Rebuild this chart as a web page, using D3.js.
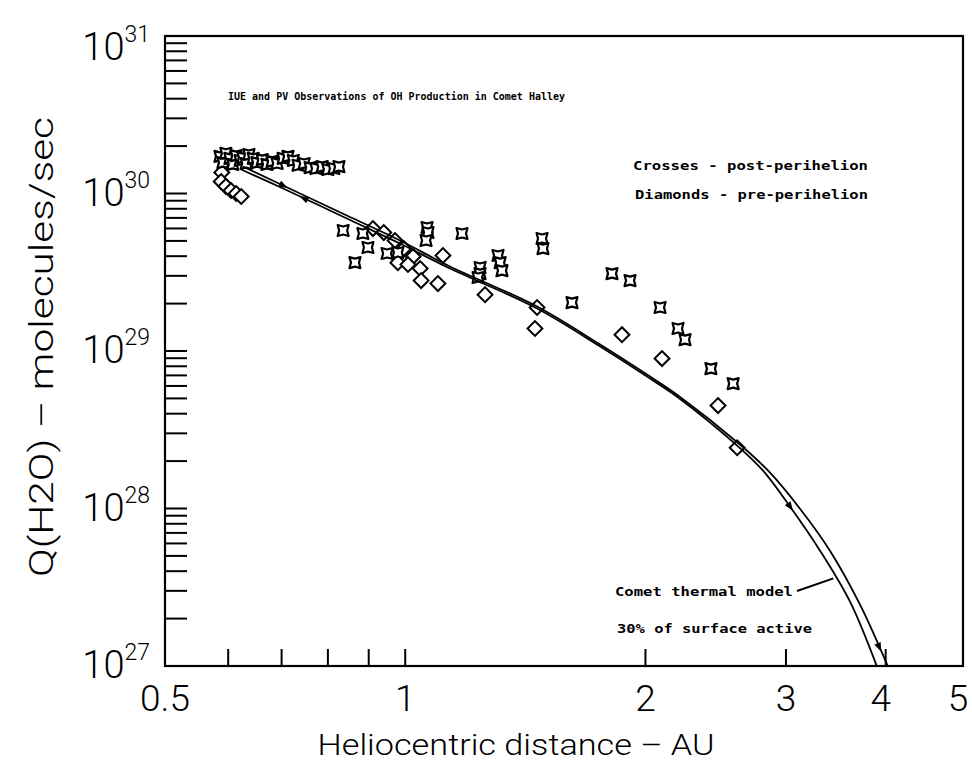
<!DOCTYPE html>
<html><head><meta charset="utf-8">
<script src="https://cdn.jsdelivr.net/npm/d3@7"></script>
<style>body{margin:0;background:#fff}</style>
</head><body>
<svg id="c" width="972" height="765"></svg>
<script>
// ---- data (heliocentric distance in AU, Q(H2O) in molecules/sec) ----
const postR = [0.586,0.591,0.596,0.603,0.608,0.614,0.621,0.626,0.632,0.637,0.645,0.652,0.662,0.671,0.681,0.691,0.703,0.713,0.724,0.734,0.747,0.760,0.773,0.787,0.800,0.814,0.826,
  0.836,0.885,0.898,0.865,0.949,0.979,1.065,1.068,1.062,1.178,1.307,1.315,1.322,1.241,1.241,1.234,1.484,1.488,1.816,1.913,1.618,2.086,2.197,2.242,2.416,2.576];
const postQ = [1.72e30,1.57e30,1.80e30,1.67e30,1.53e30,1.74e30,1.62e30,1.69e30,1.55e30,1.77e30,1.67e30,1.57e30,1.64e30,1.53e30,1.60e30,1.55e30,1.67e30,1.72e30,1.62e30,1.51e30,1.55e30,1.46e30,1.44e30,1.48e30,1.42e30,1.44e30,1.48e30,
  5.82e29,5.57e29,4.54e29,3.64e29,4.16e29,4.22e29,6.08e29,5.65e29,5.03e29,5.57e29,4.04e29,3.64e29,3.24e29,3.39e29,3.10e29,2.93e29,5.18e29,4.47e29,3.10e29,2.80e29,2.03e29,1.89e29,1.39e29,1.18e29,7.73e28,6.21e28];
const preR = [0.589,0.588,0.596,0.605,0.614,0.623,
  0.911,0.940,0.971,0.996,1.023,0.979,1.008,1.044,1.047,1.115,1.099,1.259,1.463,1.454,1.869,2.098,2.466,2.606];
const preQ = [1.36e30,1.19e30,1.11e30,1.045e30,1.0e30,9.57e29,
  5.99e29,5.65e29,5.03e29,4.47e29,3.98e29,3.64e29,3.54e29,3.34e29,2.80e29,4.04e29,2.68e29,2.28e29,1.89e29,1.39e29,1.27e29,8.95e28,4.50e28,2.43e28];
// comet thermal model, 30% of surface active (two branches)
const modelAR = [0.623,0.703,0.845,0.985,1.138,1.463,1.755,2.009,2.191,2.606,2.808,3.036,3.310,3.609,3.901];
const modelAQ = [1.421e30,1.076e30,6.94e29,4.81e29,3.34e29,1.86e29,1.067e29,6.88e28,5.13e28,2.51e28,1.74e28,1.027e28,5.40e27,2.56e27,0.99e27];
const modelBR = [0.626,0.703,0.845,0.985,1.138,1.463,1.755,2.009,2.191,2.629,2.865,3.124,3.406,3.715,4.027];
const modelBQ = [1.484e30,1.124e30,7.25e29,5.03e29,3.44e29,1.915e29,1.098e29,7.08e28,5.28e28,2.54e28,1.689e28,9.97e27,5.40e27,2.45e27,0.99e27];
// direction arrows along the model branches
const arrowR = [0.705,0.745,3.04,3.93];
const arrowBranch = ["B","A","A","B"];
const arrowDir = [1,-1,1,1];
const xTicks = [0.6,0.7,0.8,0.9,1,2,3,4];
const xLabels = ["0.5","1","2","3","4","5"];
const xLabelValues = [0.5,1,2,3,4,5];
const yExponents = [27,28,29,30,31];
const title = "IUE and PV Observations of OH Production in Comet Halley";
const legendPost = "Crosses - post-perihelion";
const legendPre = "Diamonds - pre-perihelion";
const modelLabel1 = "Comet thermal model";
const modelLabel2 = "30% of surface active";
const xTitle = "Heliocentric distance \u2013 AU";
const yTitle = "Q(H2O) \u2013 molecules/sec";

// ---- drawing ----
const svg = d3.select("#c");
const x = d3.scaleLog().domain([0.5,5]).range([165,963]);
const y = d3.scaleLog().domain([1e27,1e31]).range([666,36]);
const NUM = "Roboto, 'DejaVu Sans', sans-serif";
const MONO = "'DejaVu Sans Mono', 'Liberation Mono', monospace";

// y minor/major ticks (inside, left)
const yTickVals = [];
for (let e = 27; e < 31; e++) for (let m = 1; m <= 9; m++) yTickVals.push(m * Math.pow(10, e));
svg.append("g").selectAll("line").data(yTickVals).join("line")
  .attr("x1", x(0.5)).attr("x2", x(0.5) + 22)
  .attr("y1", d => y(d)).attr("y2", d => y(d))
  .attr("stroke", "#000").attr("stroke-width", 2);
// x ticks (inside, bottom)
svg.append("g").selectAll("line").data(xTicks).join("line")
  .attr("x1", d => x(d)).attr("x2", d => x(d))
  .attr("y1", y(1e27)).attr("y2", y(1e27) - 17)
  .attr("stroke", "#000").attr("stroke-width", 2);

// frame
svg.append("rect").attr("x", x(0.5)).attr("y", y(1e31))
  .attr("width", x(5) - x(0.5)).attr("height", y(1e27) - y(1e31))
  .attr("fill", "none").attr("stroke", "#000").attr("stroke-width", 2.2);

// y tick labels
const yl = svg.append("g").attr("font-family", NUM).attr("font-weight", 300).attr("fill", "#000");
yExponents.forEach(e => {
  const base = y(Math.pow(10, e)) + (e === 31 ? 24 : 12);
  const t = yl.append("text").attr("x", 150).attr("y", base).attr("text-anchor", "end");
  t.append("tspan").attr("font-size", 38).text("10");
  t.append("tspan").attr("font-size", 23).attr("dy", -18).text(String(e));
});
// x tick labels
svg.append("g").selectAll("text").data(xLabelValues).join("text")
  .attr("x", d => x(d) - (d >= 4 ? 5 : 0)).attr("y", 711).attr("text-anchor", "middle")
  .attr("font-family", NUM).attr("font-weight", 300).attr("font-size", 37)
  .text((d, i) => xLabels[i]);

// axis titles
svg.append("text").attr("x", 516).attr("y", 755).attr("text-anchor", "middle")
  .attr("font-family", NUM).attr("font-weight", 300).attr("font-size", 30)
  .attr("textLength", 397).attr("lengthAdjust", "spacingAndGlyphs").text(xTitle);
svg.append("text").attr("transform", "translate(53,347) rotate(-90)").attr("text-anchor", "middle")
  .attr("font-family", NUM).attr("font-weight", 300).attr("font-size", 33)
  .attr("textLength", 460).attr("lengthAdjust", "spacingAndGlyphs").text(yTitle);

// title & legend texts
function monoText(str, x0, yb, size, len) {
  svg.append("text").attr("x", x0).attr("y", yb).attr("font-family", MONO).attr("font-weight", "bold")
    .attr("font-size", size).attr("textLength", len).attr("lengthAdjust", "spacingAndGlyphs").text(str);
}
monoText(title, 228, 100, 11, 337);
monoText(legendPost, 633, 170, 13, 235);
monoText(legendPre, 635, 199, 13, 233);
monoText(modelLabel1, 615, 596, 13, 178);
monoText(modelLabel2, 617, 633, 13, 195);

// data markers
const diamond = d3.symbol().type(d3.symbolSquare).size(110);
const crossPath = "M-5.5,-5.5L0,-4L5.5,-5.5L4,0L5.5,5.5L0,4L-5.5,5.5L-4,0Z";
svg.append("g").selectAll("path").data(preR.map((r, i) => [r, preQ[i]])).join("path")
  .attr("d", diamond).attr("transform", d => `translate(${x(d[0])},${y(d[1])}) rotate(45)`)
  .attr("fill", "#fff").attr("stroke", "#000").attr("stroke-width", 2);
svg.append("g").selectAll("path").data(postR.map((r, i) => [r, postQ[i]])).join("path")
  .attr("d", crossPath).attr("transform", d => `translate(${x(d[0])},${y(d[1])})`)
  .attr("fill", "#fff").attr("stroke", "#000").attr("stroke-width", 2.2).attr("stroke-linejoin", "round");

// model curves
const line = d3.line().x(d => x(d[0])).y(d => y(d[1])).curve(d3.curveCatmullRom.alpha(0.5));
const branches = {A: modelAR.map((r, i) => [r, modelAQ[i]]), B: modelBR.map((r, i) => [r, modelBQ[i]])};
Object.values(branches).forEach(pts => {
  svg.append("path").attr("d", line(pts)).attr("fill", "none").attr("stroke", "#000").attr("stroke-width", 1.8);
});
// label connector
svg.append("line").attr("x1", 797).attr("y1", 591).attr("x2", x(3.44)).attr("y2", y(3.6e27))
  .attr("stroke", "#000").attr("stroke-width", 2);

// arrows
function interpLog(pts, r) {
  const lr = Math.log10(r);
  for (let i = 0; i < pts.length - 1; i++) {
    const a = Math.log10(pts[i][0]), b = Math.log10(pts[i + 1][0]);
    if (lr >= a && lr <= b) {
      const t = (lr - a) / (b - a);
      return Math.pow(10, Math.log10(pts[i][1]) * (1 - t) + Math.log10(pts[i + 1][1]) * t);
    }
  }
  return pts[pts.length - 1][1];
}
arrowR.forEach((r, i) => {
  const pts = branches[arrowBranch[i]];
  const p = [x(r), y(interpLog(pts, r))];
  const q = [x(r * 1.01), y(interpLog(pts, r * 1.01))];
  let ang = Math.atan2(q[1] - p[1], q[0] - p[0]) * 180 / Math.PI;
  if (arrowDir[i] < 0) ang += 180;
  svg.append("path").attr("d", "M4,0L-5,-3.5L-5,3.5Z")
    .attr("transform", `translate(${p[0]},${p[1]}) rotate(${ang})`).attr("fill", "#000");
});
</script>
</body></html>
